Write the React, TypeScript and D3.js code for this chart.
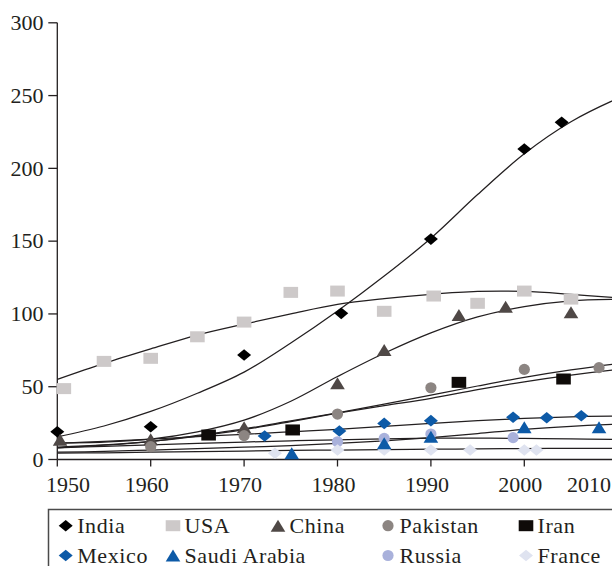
import React from 'react';
import * as d3 from 'd3';

const W = 612;
const H = 566;

// ---- tick labels ----
const yTicks = [0, 50, 100, 150, 200, 250, 300];
const xTicks = [1950, 1960, 1970, 1980, 1990, 2000, 2010];

// ---- observed points ----
const indiaYears = [1950, 1960, 1970, 1980.4, 1990, 2000, 2004];
const indiaVals = [19.1, 22.5, 71.8, 100.4, 151.4, 213.3, 231.6];

const usaYears = [1950.7, 1955, 1960, 1965, 1970, 1975, 1980, 1985, 1990.3, 1995, 2000, 2005];
const usaVals = [48.7, 67.4, 69.5, 84.3, 94.4, 114.8, 115.7, 101.8, 112.3, 107.3, 115.7, 110.2];

const chinaYears = [1950.3, 1960, 1970, 1980, 1985, 1993, 1998, 2005];
const chinaVals = [13.5, 13.9, 22.1, 52.3, 75.2, 99.2, 105.0, 101.1];

const pakistanYears = [1960, 1970, 1980, 1990, 2000, 2008];
const pakistanVals = [8.8, 16.4, 31.2, 49.3, 61.9, 63.1];

const iranYears = [1966.2, 1975.2, 1993, 2004.2];
const iranVals = [16.8, 20.3, 53.0, 55.3];

const mexicoYears = [1972.2, 1980.2, 1985, 1990, 1998.8, 2002.4, 2006.1];
const mexicoVals = [16.1, 19.6, 24.8, 26.7, 29.0, 28.7, 30.1];

const saudiYears = [1975.1, 1985, 1990, 2000, 2008];
const saudiVals = [4.3, 11.1, 15.7, 22.1, 22.1];

const russiaYears = [1980, 1985, 1990, 1998.8];
const russiaVals = [12.2, 14.5, 17.5, 15.0];

const franceYears = [1973.3, 1980, 1985, 1990, 1994.2, 2000, 2001.3];
const franceVals = [4.3, 6.5, 6.5, 6.5, 6.5, 6.5, 6.5];

// ---- trend lines ----
const trendYears = [1950, 1955, 1960, 1965, 1970, 1975, 1980, 1985, 1990, 1995, 2000, 2005, 2010, 2012];
const indiaTrend = [15.5, 23, 33, 45.5, 60, 80, 102, 126, 152, 182, 210, 232, 248, 253];
const usaTrend = [55, 66, 76, 85.5, 93, 100, 106.5, 110.5, 113.5, 115.5, 115.5, 113.5, 111, 110];
const chinaTrend = [11.5, 12, 14, 19, 27, 40, 57, 73, 87, 98, 105, 109, 110, 110];
const pakistanTrend = [8.5, 10, 12.5, 16.5, 21, 26.5, 32, 38, 44.3, 50.5, 56.4, 61.5, 65.8, 67];
const iranTrend = [8, 9.8, 12.3, 16, 20.5, 26, 31.8, 37, 42, 48, 53.4, 58, 61.8, 63];
const mexicoTrend = [11, 12.5, 14, 15.7, 17.3, 19, 20.7, 22.8, 24.8, 26.7, 28.3, 29.3, 29.9, 30];
const saudiTrend = [5, 5.5, 6.5, 7.5, 8.5, 9.5, 11, 12.8, 15, 17.8, 20.7, 22.8, 24.3, 25];
const russiaTrend = [8, 9, 10, 11, 12, 12.8, 13.5, 14.2, 14.6, 14.7, 14.5, 14.2, 13.8, 13.6];
const franceTrend = [4.3, 4.6, 5, 5.4, 5.8, 6.2, 6.5, 6.8, 7.1, 7.3, 7.5, 7.6, 7.7, 7.7];

type Shape = 'diamond' | 'square' | 'triangle' | 'circle';
interface Series {
  name: string;
  years: number[];
  vals: number[];
  trend: number[];
  shape: Shape;
  color: string;
  legendRow: number;
  legendCol: number;
}

const series: Series[] = [
  { name: 'India', years: indiaYears, vals: indiaVals, trend: indiaTrend, shape: 'diamond', color: '#000000', legendRow: 0, legendCol: 0 },
  { name: 'USA', years: usaYears, vals: usaVals, trend: usaTrend, shape: 'square', color: '#cdc9c9', legendRow: 0, legendCol: 1 },
  { name: 'China', years: chinaYears, vals: chinaVals, trend: chinaTrend, shape: 'triangle', color: '#4f4846', legendRow: 0, legendCol: 2 },
  { name: 'Pakistan', years: pakistanYears, vals: pakistanVals, trend: pakistanTrend, shape: 'circle', color: '#8c8582', legendRow: 0, legendCol: 3 },
  { name: 'Iran', years: iranYears, vals: iranVals, trend: iranTrend, shape: 'square', color: '#0f0b09', legendRow: 0, legendCol: 4 },
  { name: 'Mexico', years: mexicoYears, vals: mexicoVals, trend: mexicoTrend, shape: 'diamond', color: '#0d5aa7', legendRow: 1, legendCol: 0 },
  { name: 'Russia', years: russiaYears, vals: russiaVals, trend: russiaTrend, shape: 'circle', color: '#a9b1db', legendRow: 1, legendCol: 3 },
  { name: 'France', years: franceYears, vals: franceVals, trend: franceTrend, shape: 'diamond', color: '#dfe3f0', legendRow: 1, legendCol: 4 },
  { name: 'Saudi Arabia', years: saudiYears, vals: saudiVals, trend: saudiTrend, shape: 'triangle', color: '#0d5aa7', legendRow: 1, legendCol: 1 },
];

const INK = '#231f20';
const FONT = 'Liberation Serif';

function markerPath(shape: Shape): string {
  switch (shape) {
    case 'diamond': {
      const w = 7, h = 5.8;
      return `M0,${-h}L${w},0L0,${h}L${-w},0Z`;
    }
    case 'square': {
      const w = 7.3, h = 5.5;
      return `M${-w},${-h}H${w}V${h}H${-w}Z`;
    }
    case 'triangle': {
      const w = 7.3, h = 6;
      return `M0,${-h}L${w},${h}L${-w},${h}Z`;
    }
    case 'circle': {
      const r = 5.6;
      return `M${r},0A${r},${r},0,1,1,${-r},0A${r},${r},0,1,1,${r},0Z`;
    }
  }
}

export default function App() {
  const x = d3.scaleLinear().domain([1950, 2010]).range([57.3, 617.7]);
  const y = d3.scaleLinear().domain([0, 300]).range([459.5, 22.8]);

  const line = d3
    .line<number>()
    .x((_, i) => x(trendYears[i]))
    .y((d) => y(d))
    .curve(d3.curveCatmullRom.alpha(0.5));

  const legendColX = [65.7, 173, 278, 388, 526];
  const legendRowY = [525.7, 555.5];
  const textStyle: React.CSSProperties = { fontFamily: FONT, fontSize: '22px' };

  return (
    <svg
      width={W}
      height={H}
      viewBox={`0 0 ${W} ${H}`}
      style={{ position: 'absolute', left: 0, top: 0, display: 'block', background: '#fff' }}
    >
      <rect x={0} y={0} width={W} height={H} fill="#fff" />

      {/* trend lines */}
      <g fill="none" stroke={INK} strokeWidth={1.25}>
        {series.map((s) => (
          <path key={s.name} d={line(s.trend) || ''} />
        ))}
      </g>

      {/* axes */}
      <g stroke={INK} strokeWidth={1.3}>
        <line x1={x(1950)} x2={x(1950)} y1={y(300)} y2={y(0)} />
        <line x1={x(1950)} x2={W} y1={y(0)} y2={y(0)} />
        {yTicks.map((t) => (
          <line key={'yt' + t} x1={x(1950) - 9} x2={x(1950)} y1={y(t)} y2={y(t)} />
        ))}
        {xTicks.map((t) => (
          <line key={'xt' + t} x1={x(t)} x2={x(t)} y1={y(0)} y2={y(0) + 7} />
        ))}
      </g>
      <g fill={INK}>
        {yTicks.map((t) => (
          <text key={'yl' + t} x={43.5} y={y(t) + 7.3} textAnchor="end" style={textStyle}>
            {t}
          </text>
        ))}
        {xTicks.map((t) => (
          <text
            key={'xl' + t}
            x={Math.min(589, Math.max(68, x(t) - 4))}
            y={492.3}
            textAnchor="middle"
            style={textStyle}
          >
            {t}
          </text>
        ))}
      </g>

      {/* markers */}
      {series.map((s) => (
        <g key={'m' + s.name} fill={s.color}>
          {s.years.map((yr, i) => (
            <path
              key={i}
              transform={`translate(${x(yr)},${y(s.vals[i])})`}
              d={markerPath(s.shape)}
            />
          ))}
        </g>
      ))}

      {/* legend */}
      <rect x={48.5} y={509.5} width={620} height={80} fill="none" stroke="#4a4a4a" strokeWidth={1.5} />
      <g fill={INK}>
        {series.map((s) => {
          const cx = legendColX[s.legendCol];
          const cy = legendRowY[s.legendRow];
          return (
            <g key={'lg' + s.name}>
              <path transform={`translate(${cx},${cy})`} d={markerPath(s.shape)} fill={s.color} />
              <text x={cx + 11.5} y={cy + 7} style={{ ...textStyle, letterSpacing: '0.6px' }}>
                {s.name}
              </text>
            </g>
          );
        })}
      </g>
    </svg>
  );
}
